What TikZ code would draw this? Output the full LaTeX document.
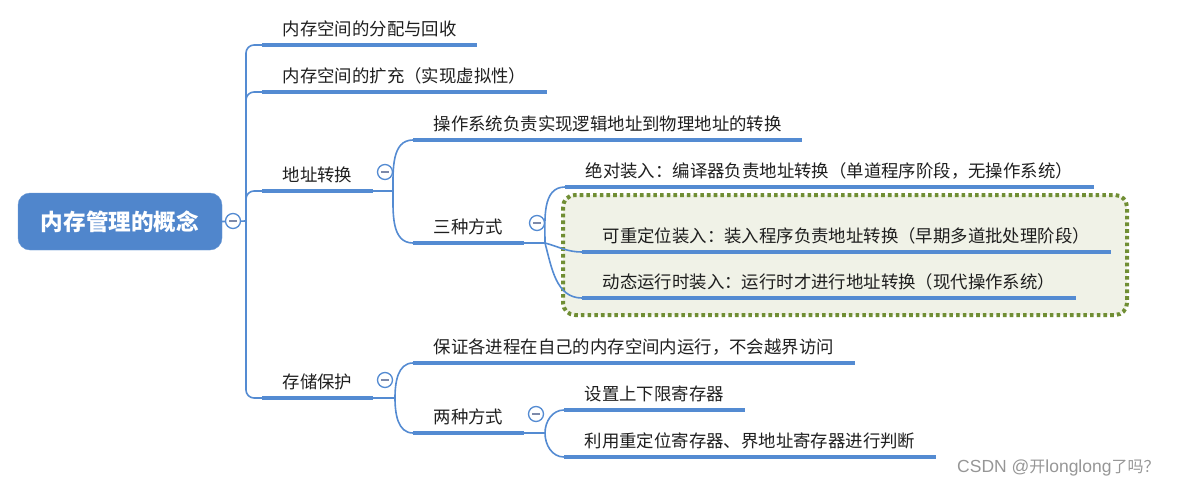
\documentclass[tikz,border=0pt]{standalone}
\usepackage{fontspec}
\setmainfont{Noto Sans CJK SC}
\newfontfamily\wmlatin{Liberation Sans}
\definecolor{linecol}{RGB}{84,139,210}
\definecolor{rootcol}{RGB}{80,134,204}
\definecolor{boxcol}{RGB}{112,142,52}
\definecolor{boxfill}{RGB}{240,242,231}
\definecolor{txtcol}{RGB}{30,30,30}
\definecolor{minuscol}{RGB}{125,138,170}
\definecolor{wmcol}{RGB}{150,150,150}
\tikzset{
    leaf/.style={anchor=south west, font=\fontsize{17.4}{20}\selectfont, text=txtcol,
        inner xsep=20.5pt, inner ysep=5pt, text height=13pt, text depth=4pt},
    uline/.style={draw=linecol, line width=4pt},
    conn/.style={draw=linecol, line width=1.6pt},
    fold/.style={circle, draw=linecol, fill=white, line width=1.3pt, minimum size=15pt, inner sep=0pt,
        path picture={\draw[minuscol, line width=1.4pt]
            ([xshift=-3.8pt]path picture bounding box.center) -- ([xshift=3.8pt]path picture bounding box.center);}},
    rootbox/.style={rounded corners=12pt, fill=rootcol, draw=rootcol!85!white, text=white,
        font=\fontsize{22.6}{26}\selectfont\bfseries, minimum width=204pt, minimum height=57pt},
    dotbox/.style={draw=boxcol, fill=boxfill, line width=4pt, dash pattern=on 3.6pt off 3.1pt,
        rounded corners=12pt},
    wmark/.style={anchor=west, text=wmcol, font=\fontsize{16}{19}\selectfont, inner sep=0pt}
}
\begin{document}
\begin{tikzpicture}[x=1pt, y=-1pt]
                \useasboundingbox ( 0, 0 ) rectangle ( 1192, 488 );
% рамка
                \draw [dotbox] ( 563, 195 ) rectangle ( 1127, 315 );
% корень
                \node [rootbox] (root) at ( 120, 221.5 ) {内存管理的概念};
% ветви
                \node [leaf] (n1) at ( 262, 45 ) {内存空间的分配与回收};
                \node [leaf] (n2) at ( 262, 92 ) {内存空间的扩充（实现虚拟性）};
                \node [leaf] (n3) at ( 262, 191 ) {地址转换};
                \node [leaf] (n4) at ( 262, 398 ) {存储保护};
                \node [leaf] (a1) at ( 413, 140 ) {操作系统负责实现逻辑地址到物理地址的转换};
                \node [leaf] (a2) at ( 413, 243 ) {三种方式};
                \node [leaf] (c1) at ( 565, 187 ) {绝对装入：编译器负责地址转换（单道程序阶段，无操作系统）};
                \node [leaf] (c2) at ( 582, 252 ) {可重定位装入：装入程序负责地址转换（早期多道批处理阶段）};
                \node [leaf] (c3) at ( 582, 298 ) {动态运行时装入：运行时才进行地址转换（现代操作系统）};
                \node [leaf] (s1) at ( 413, 363 ) {保证各进程在自己的内存空间内运行，不会越界访问};
                \node [leaf] (s2) at ( 413, 433 ) {两种方式};
                \node [leaf] (d1) at ( 564, 410 ) {设置上下限寄存器};
                \node [leaf] (d2) at ( 564, 457 ) {利用重定位寄存器、界地址寄存器进行判断};
% подчёркивания
                \foreach \n in {n1,n2,n3,n4,a1,a2,c1,c2,c3,s1,s2,d1,d2}
                    \draw [uline] (\n.south west) -- (\n.south east);
% точки ветвления
                \coordinate (t0) at ( 246, 221 );
                \coordinate (b3) at ( 393, 191 );
                \coordinate (b4) at ( 395, 398 );
                \coordinate (b5) at ( 545, 243 );
                \coordinate (b6) at ( 545, 433 );
% связи
                \draw [conn] (root.east) -- (t0);
                \draw [conn, rounded corners=8pt] (t0) |- (n1.south west);
                \draw [conn, rounded corners=8pt] (t0) |- (n2.south west);
                \draw [conn, rounded corners=8pt] (t0) |- (n3.south west);
                \draw [conn, rounded corners=8pt] (t0) |- (n4.south west);
                \draw [conn] (n3.south east) -- (b3);
                \draw [conn] (b3) to [out=90, in=180] (a1.south west);
                \draw [conn] (b3) to [out=-90, in=180] (a2.south west);
                \draw [conn] (a2.south east) -- (b5);
                \draw [conn] (b5) to [out=90, in=180] (c1.south west);
                \draw [conn] (b5) to [out=-15, in=180] (c2.south west);
                \draw [conn] (b5) to [out=-75, in=180] (c3.south west);
                \draw [conn] (n4.south east) -- (b4);
                \draw [conn] (b4) to [out=90, in=180] (s1.south west);
                \draw [conn] (b4) to [out=-90, in=180] (s2.south west);
                \draw [conn] (s2.south east) -- (b6);
                \draw [conn] (b6) to [out=90, in=180] (d1.south west);
                \draw [conn] (b6) to [out=-90, in=180] (d2.south west);
% кнопки
                \node [fold] (f0) at ( 233, 221 ) {};
                \node [fold] (f3) at ( 385, 172 ) {};
                \node [fold] (f4) at ( 385, 380 ) {};
                \node [fold] (f5) at ( 537, 223 ) {};
                \node [fold] (f6) at ( 536, 414 ) {};
% подпись
                \node [wmark] (wm) at ( 957, 468 ) {{\wmlatin\fontsize{17.5}{19}\selectfont CSDN @}开{\wmlatin\fontsize{17.5}{19}\selectfont longlong}了吗？};
\end{tikzpicture}
\end{document}
